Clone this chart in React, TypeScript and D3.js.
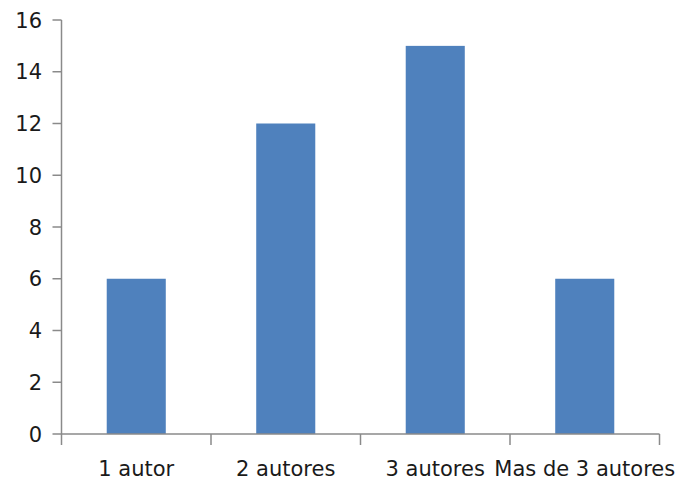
import React from "react";
import * as d3 from "d3";

const categories = ["1 autor", "2 autores", "3 autores", "Mas de 3 autores"];
const values = [6, 12, 15, 6];
const yTicks = [0, 2, 4, 6, 8, 10, 12, 14, 16];

const W = 680;
const H = 480;
const left = 61.5;
const right = 659.5;
const top = 20;
const bottom = 434;

export default function App() {
  const x = d3.scaleBand<string>().domain(categories).range([left, right]).paddingInner(0).paddingOuter(0);
  const y = d3.scaleLinear().domain([0, 16]).range([bottom, top]);
  const bw = x.bandwidth() * 0.395;
  const axisColor = "#8a8a8a";
  const font = "'DejaVu Sans', Verdana, sans-serif";
  const boundaries = [...categories.map((c) => x(c) as number), right];

  return (
    <svg width={W} height={H} style={{ position: "absolute", left: 0, top: 0, background: "#fff" }}>
      {categories.map((c, i) => (
        <rect
          key={c}
          x={(x(c) as number) + x.bandwidth() / 2 - bw / 2}
          y={y(values[i])}
          width={bw}
          height={bottom - y(values[i])}
          fill="#4F81BD"
        />
      ))}
      {/* y axis */}
      <line x1={left} x2={left} y1={top} y2={bottom} stroke={axisColor} strokeWidth={1.5} />
      {yTicks.map((t) => (
        <g key={t}>
          <line x1={left - 9} x2={left} y1={y(t)} y2={y(t)} stroke={axisColor} strokeWidth={1.5} />
          <text x={42} y={y(t)} dy="0.36em" textAnchor="end" fontFamily={font} fontSize={21} fill="#1a1a1a">
            {t}
          </text>
        </g>
      ))}
      {/* x axis */}
      <line x1={left} x2={right} y1={bottom} y2={bottom} stroke={axisColor} strokeWidth={1.5} />
      {boundaries.map((b, i) => (
        <line key={i} x1={b} x2={b} y1={bottom} y2={bottom + 11} stroke={axisColor} strokeWidth={1.5} />
      ))}
      {categories.map((c) => (
        <text
          key={c}
          x={(x(c) as number) + x.bandwidth() / 2}
          y={468}
          dy="0.36em"
          textAnchor="middle"
          fontFamily={font}
          fontSize={21}
          fill="#1a1a1a"
        >
          {c}
        </text>
      ))}
    </svg>
  );
}
